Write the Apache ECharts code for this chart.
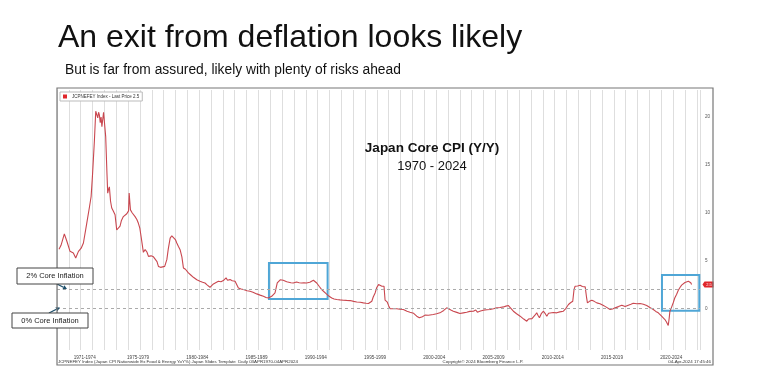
<!DOCTYPE html>
<html>
<head>
<meta charset="utf-8">
<script src="https://cdn.jsdelivr.net/npm/echarts@6/dist/echarts.min.js"></script>
<style>
html,body{margin:0;padding:0;background:#fff;}
#chart{width:772px;height:382px;}
</style>
</head>
<body>
<div id="chart"></div>
<script>
// ---- data (fractional years, core CPI Y/Y %) ----
const years = [
1970.83,1971.0,1971.28,1971.5,1971.76,1972.04,1972.24,1972.47,1972.7,1972.89,
1973.17,1973.4,1973.54,1973.65,1973.82,1973.93,1974.02,1974.1,1974.17,1974.24,
1974.31,1974.38,1974.45,1974.52,1974.59,1974.66,1974.77,1974.88,1974.94,1975.0,
1975.08,1975.18,1975.28,1975.4,1975.56,1975.7,1975.85,1975.98,1976.1,1976.26,
1976.4,1976.55,1976.7,1976.75,1976.82,1976.86,1977.0,1977.25,1977.4,1977.53,
1977.65,1977.76,1977.95,1978.1,1978.25,1978.38,1978.6,1978.8,1978.94,1979.1,
1979.22,1979.4,1979.56,1979.75,1979.93,1980.05,1980.21,1980.35,1980.49,1980.65,
1980.77,1980.9,1981.05,1981.2,1981.33,1981.5,1981.61,1981.75,1981.95,1982.17,
1982.46,1982.73,1982.95,1983.15,1983.35,1983.57,1983.7,1983.86,1984.05,1984.28,
1984.5,1984.7,1984.8,1984.93,1985.05,1985.26,1985.45,1985.69,1985.83,1985.97,
1986.2,1986.39,1986.7,1986.95,1987.2,1987.52,1987.8,1988.08,1988.3,1988.5,
1988.65,1988.78,1988.9,1989.06,1989.14,1989.25,1989.34,1989.5,1989.62,1989.75,
1989.9,1990.05,1990.18,1990.4,1990.6,1990.75,1990.88,1991.1,1991.3,1991.5,
1991.72,1991.85,1992.0,1992.15,1992.3,1992.45,1992.58,1992.8,1993.0,1993.2,
1993.37,1993.6,1993.85,1994.05,1994.27,1994.55,1994.83,1995.1,1995.4,1995.7,
1995.96,1996.25,1996.52,1996.75,1996.95,1997.1,1997.23,1997.35,1997.51,1997.65,
1997.8,1997.92,1998.08,1998.26,1998.35,1998.54,1998.65,1998.77,1999.06,1999.33,
1999.6,1999.89,2000.2,2000.45,2000.76,2001.02,2001.24,2001.5,2001.72,2002.0,
2002.42,2002.7,2002.98,2003.3,2003.55,2003.69,2003.9,2004.11,2004.4,2004.67,
2004.95,2005.24,2005.5,2005.8,2006.0,2006.08,2006.14,2006.4,2006.65,2006.95,
2007.21,2007.5,2007.77,2008.05,2008.34,2008.55,2008.76,2008.95,2009.18,2009.45,
2009.75,2010.05,2010.31,2010.45,2010.59,2010.75,2010.87,2011.0,2011.15,2011.25,
2011.38,2011.55,2011.72,2011.85,2012.0,2012.15,2012.28,2012.55,2012.84,2013.1,
2013.4,2013.6,2013.83,2014.0,2014.19,2014.3,2014.39,2014.6,2014.81,2015.0,
2015.24,2015.35,2015.43,2015.6,2015.8,2016.0,2016.22,2016.49,2016.78,2016.95,
2017.1,2017.34,2017.55,2017.77,2018.05,2018.33,2018.61,2018.88,2019.1,2019.3,
2019.6,2019.87,2020.15,2020.43,2020.7,2020.99,2021.2,2021.41,2021.55,2021.69,
2021.85,2021.97,2022.1,2022.25,2022.33,2022.39,2022.55,2022.67,2022.8,2022.96,
2023.1,2023.24,2023.38,2023.52,2023.66,2023.8,2023.95,2024.08,2024.15,2024.22
];
const cpi = [
6.2,6.6,7.8,7.0,5.97,5.8,5.28,5.97,6.3,6.84,
8.9,10.6,11.7,13.8,17.6,20.6,20.4,19.9,20.5,20.2,
19.4,20.0,19.0,18.8,20.5,20.4,17.95,14.0,12.05,12.4,
12.7,11.2,10.5,10.2,9.8,8.2,8.4,8.6,9.2,9.6,
9.5,9.9,10.2,12.05,10.9,10.3,10.0,9.6,9.3,8.9,
8.4,7.5,5.87,6.15,5.9,5.45,5.5,5.4,5.28,4.9,
4.4,4.3,4.1,4.4,5.1,6.2,7.35,7.6,7.5,7.2,
6.84,6.5,6.15,5.4,4.24,4.1,4.0,3.72,3.5,3.26,
3.0,2.85,2.75,2.67,2.45,2.22,2.4,2.57,2.7,2.85,
2.8,2.92,3.05,3.2,2.95,3.02,2.9,2.85,2.92,2.15,
2.05,1.98,1.85,1.8,1.7,1.53,1.4,1.28,1.15,1.1,
1.1,1.28,1.46,1.63,1.7,2.67,2.85,3.0,3.02,2.95,
2.95,2.8,2.67,2.7,2.67,2.75,2.78,2.7,2.67,2.7,
2.67,2.7,2.74,2.85,2.95,2.8,2.67,2.3,1.98,1.75,
1.56,1.3,1.1,1.0,0.94,0.9,0.87,0.85,0.83,0.75,
0.69,0.65,0.59,0.55,0.52,0.6,0.76,1.2,1.63,2.2,
2.5,2.5,2.33,2.33,0.87,0.66,0.3,-0.03,-0.03,-0.03,
-0.08,-0.1,-0.28,-0.38,-0.5,-0.8,-0.97,-0.85,-0.69,-0.7,
-0.63,-0.55,-0.45,-0.2,0.07,-0.03,-0.15,-0.28,-0.4,-0.52,
-0.45,-0.38,-0.3,-0.28,-0.15,-0.1,-0.38,-0.25,-0.17,-0.12,
-0.1,-0.02,0.07,0.1,0.17,0.25,0.31,0.05,-0.28,-0.55,
-0.8,-1.1,-1.32,-1.1,-0.97,-1.05,-1.15,-0.7,-0.45,-0.7,
-0.97,-0.5,-0.28,-0.5,-0.8,-0.5,-0.38,-0.42,-0.45,-0.35,
-0.28,0.0,0.42,0.6,0.76,2.0,2.33,2.35,2.43,2.3,
2.26,1.2,0.59,0.75,0.87,0.75,0.59,0.5,0.31,0.2,
0.0,-0.1,-0.05,0.07,0.2,0.35,0.2,0.35,0.45,0.55,
0.5,0.52,0.45,0.31,0.1,-0.1,-0.3,-0.45,-0.6,-0.8,
-1.0,-1.15,-1.4,-1.77,-1.0,-0.3,0.2,0.6,1.1,1.5,
1.9,2.2,2.45,2.65,2.72,2.75,2.85,2.78,2.7,2.5
];
const periodLabels = ['1971-1974','1975-1979','1980-1984','1985-1989','1990-1994','1995-1999','2000-2004','2005-2009','2010-2014','2015-2019','2020-2024'];
const periodCenters = [1973,1977.5,1982.5,1987.5,1992.5,1997.5,2002.5,2007.5,2012.5,2017.5,2022.5];
const yTickValues = [0,5,10,15,20];
const refLevels = [2,0];
const lastPrice = 2.5;
const highlightYears = [[1988.55,1993.5],[2021.72,2024.87]];
const highlightValues = [[0.99,4.75],[-0.23,3.5]];

const X_MIN = 1970.66, X_MAX = 2024.93;
const Y_MIN = -4.33, Y_MAX = 22.82;

const seriesData = years.map((y,i)=>[y,cpi[i]]);
const labelMap = {};
periodCenters.forEach((c,i)=>{labelMap[c]=periodLabels[i];});

const chart = echarts.init(document.getElementById('chart'), null, {renderer:'canvas'});
const sans = 'Liberation Sans, Arial, sans-serif';

function arrow(x1,y1,x2,y2,color){
  const dx=x2-x1, dy=y2-y1, L=Math.sqrt(dx*dx+dy*dy), ux=dx/L, uy=dy/L;
  const hl=4, hw=2.2;
  const bx=x2-ux*hl, by=y2-uy*hl;
  return [
    {type:'line', shape:{x1:x1,y1:y1,x2:bx,y2:by}, style:{stroke:color,lineWidth:1.3}, z:20},
    {type:'polygon', shape:{points:[[x2,y2],[bx-uy*hw,by+ux*hw],[bx+uy*hw,by-ux*hw]]}, style:{fill:color}, z:20}
  ];
}

const graphics = [
  {type:'text', x:58, y:38, style:{text:'An exit from deflation looks likely', fontSize:32, fontFamily:sans, fill:'#111', textVerticalAlign:'middle'}},
  {type:'text', x:65, y:70, style:{text:'But is far from assured, likely with plenty of risks ahead', fontSize:13.8, fontFamily:sans, fill:'#111', textVerticalAlign:'middle'}},
  {type:'rect', shape:{x:57,y:88,width:656,height:277}, style:{fill:'none',stroke:'#777',lineWidth:1.2}, z:30, silent:true},
  {type:'text', x:432, y:148, style:{text:'Japan Core CPI (Y/Y)', fontSize:13.5, fontWeight:'bold', fontFamily:sans, fill:'#111', textAlign:'center', textVerticalAlign:'middle'}, z:10},
  {type:'text', x:432, y:166, style:{text:'1970 - 2024', fontSize:13, fontFamily:sans, fill:'#111', textAlign:'center', textVerticalAlign:'middle'}, z:10},
  {type:'text', x:58, y:361.5, style:{text:'JCPNEFEY Index (Japan CPI Nationwide Ex Food & Energy YoY%) Japan Slides Template  Daily 03APR1970-04APR2024', fontSize:4.4, fontFamily:sans, fill:'#333', textVerticalAlign:'middle'}, z:10},
  {type:'text', x:483, y:361.5, style:{text:'Copyright\u00a9 2024 Bloomberg Finance L.P.', fontSize:4.4, fontFamily:sans, fill:'#333', textAlign:'center', textVerticalAlign:'middle'}, z:10},
  {type:'text', x:711, y:361.5, style:{text:'04-Apr-2024 17:45:46', fontSize:4.4, fontFamily:sans, fill:'#333', textAlign:'right', textVerticalAlign:'middle'}, z:10},
  {type:'rect', shape:{x:17,y:268,width:76,height:16}, style:{fill:'#fff',stroke:'#444',lineWidth:1}, z:40},
  {type:'text', x:55, y:276, style:{text:'2% Core Inflation', fontSize:7.5, fontFamily:sans, fill:'#222', textAlign:'center', textVerticalAlign:'middle'}, z:41},
  {type:'rect', shape:{x:12,y:313,width:76,height:15}, style:{fill:'#fff',stroke:'#444',lineWidth:1}, z:40},
  {type:'text', x:50, y:320.5, style:{text:'0% Core Inflation', fontSize:7.5, fontFamily:sans, fill:'#222', textAlign:'center', textVerticalAlign:'middle'}, z:41}
].concat(arrow(57,284,67,289,'#1d4f6b')).concat(arrow(49,313,60,307.5,'#1d4f6b'));

const option = {
  backgroundColor:'#fff',
  animation:false,
  grid:{left:57, right:72, top:90, bottom:32},
  legend:{
    left:60, top:92, itemWidth:4, itemHeight:4, icon:'rect',
    backgroundColor:'#fff', borderColor:'#bbb', borderWidth:1, padding:[2,3],
    textStyle:{fontSize:4.5, color:'#333', fontFamily:sans},
    formatter:()=> 'JCPNEFEY Index - Last Price ' + lastPrice,
    data:['JCPNEFEY Index']
  },
  xAxis:{
    type:'value', min:X_MIN, max:X_MAX, interval:1,
    axisLine:{show:false}, axisTick:{show:false},
    splitLine:{show:true, lineStyle:{color:'#dedede', width:1}},
    axisLabel:{customValues:periodCenters, formatter:(v)=>labelMap[v]||'', fontSize:4.6, color:'#444', fontFamily:sans, margin:5}
  },
  yAxis:{
    type:'value', position:'right', min:Y_MIN, max:Y_MAX,
    axisLine:{show:false}, axisTick:{show:false}, splitLine:{show:false},
    axisLabel:{customValues:yTickValues, fontSize:4.6, color:'#555', fontFamily:sans, margin:5}
  },
  series:[{
    name:'JCPNEFEY Index', type:'line', data:seriesData, showSymbol:false, symbol:'none',
    lineStyle:{color:'#c9474f', width:1.1}, itemStyle:{color:'#e0262b'},
    markLine:{
      silent:true, symbol:'none', label:{show:false},
      lineStyle:{type:[3,3], color:'#aaa', width:1},
      data: refLevels.map(v=>({yAxis:v}))
    },
    markArea:{
      silent:true,
      itemStyle:{color:'rgba(0,0,0,0)', borderColor:'#4fa6d6', borderWidth:2},
      data: highlightYears.map((r,i)=>[{xAxis:r[0], yAxis:highlightValues[i][0]},{xAxis:r[1], yAxis:highlightValues[i][1]}])
    },
    markPoint:{
      silent:true,
      symbol:'path://M0,5 L4,0 L22,0 L22,10 L4,10 Z', symbolKeepAspect:false,
      symbolSize:[11,6], symbolOffset:[8,0],
      itemStyle:{color:'#e0262b'},
      label:{show:true, formatter:()=>String(lastPrice), fontSize:4, color:'#fff', offset:[1,0]},
      data:[{coord:[X_MAX, lastPrice]}]
    }
  }],
  graphic: graphics
};
chart.setOption(option);
</script>
</body>
</html>
